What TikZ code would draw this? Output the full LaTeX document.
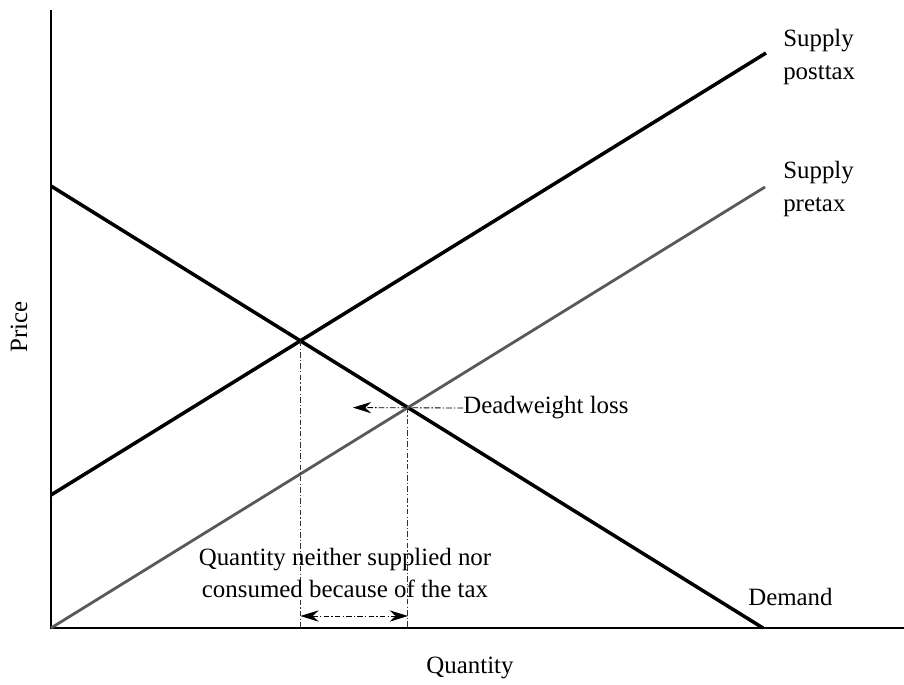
\documentclass[tikz,border=0pt]{standalone}
\usepackage{fontspec}
\setmainfont{Liberation Serif}
\usetikzlibrary{intersections,calc,arrows.meta}
\tikzstyle{axis}=[line width=1pt, black]
\tikzstyle{curve}=[line width=2.5pt, black]
\tikzstyle{pretax}=[line width=2pt, black!65]
\tikzstyle{guide}=[line width=0.6pt, black!80, dash pattern=on 4pt off 1.5pt on 1pt off 1.5pt]
\tikzstyle{pointer}=[guide, black, -{Stealth[length=13pt,width=8pt]}]
\tikzstyle{annot}=[align=left, inner sep=0pt, font=\fontsize{17.7}{22.8}\selectfont]

\begin{document}
\begin{tikzpicture}[x=0.025cm, y=-0.025cm]
	\useasboundingbox (0,0) rectangle (904,685);

	\coordinate (o) at (51,628);
	\coordinate (ytop) at (51,10);
	\coordinate (xend) at (904,628);
	\draw[axis] (ytop) -- (o) -- (xend);

	% the three lines
	\draw[curve, name path=demand] (51,186) coordinate (dstart) -- (763,628) coordinate (dend);
	\draw[curve, name path=post] (51,495) coordinate (pstart) -- (766,53) coordinate (pend);
	\draw[pretax, name path=pre] (o) -- (765,187) coordinate (qend);

	\path[name intersections={of=demand and post, by=eqpost}];
	\path[name intersections={of=demand and pre, by=eqpre}];

	% guides down to the axis
	\draw[guide] (eqpost) -- (eqpost |- o);
	\draw[guide] (eqpre) -- (eqpre |- o);

	\node[annot, anchor=west](post) at (783,57) {Supply\\posttax};
	\node[annot, anchor=west](pre) at (783,189) {Supply\\pretax};
	\node[annot, anchor=west](dem) at (748,597) {Demand};
	\node[annot, anchor=west](dwl) at (463,408) {Deadweight loss};
	\node[annot, align=center](gap) at (345,573) {Quantity neither supplied nor\\consumed because of the tax};
	\node[annot](xlab) at (470,668) {Quantity};
	\node[annot, rotate=90](ylab) at (19,327) {Price};

	\coordinate (dwltip) at ($(eqpre)+(-55,0)$);
	\draw[pointer] (dwl.west) -- (dwltip);
	\coordinate (ga) at ($(eqpost |- o)+(0,-12)$);
	\coordinate (gb) at ($(eqpre |- o)+(0,-12)$);
	\draw[pointer, {Stealth[length=13pt,width=8pt]}-{Stealth[length=13pt,width=8pt]}] (ga) -- (gb);
\end{tikzpicture}
\end{document}
